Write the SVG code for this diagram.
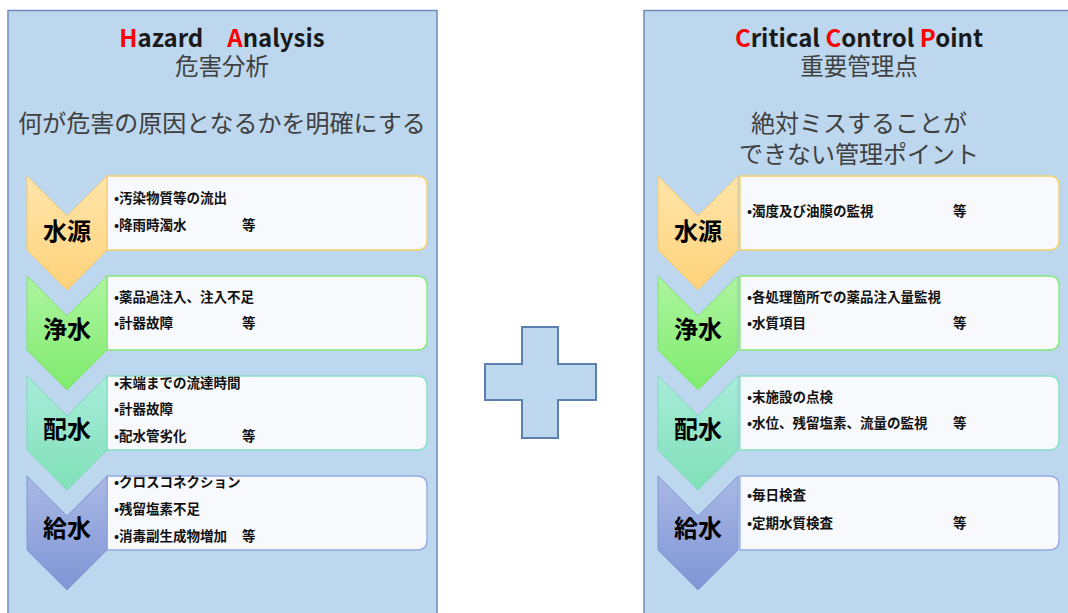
<svg xmlns="http://www.w3.org/2000/svg" width="1068" height="613" viewBox="0 0 1068 613">
<defs>
<linearGradient id="g1" x1="0" y1="0" x2="0" y2="1"><stop offset="0" stop-color="#FFE5AA"/><stop offset="1" stop-color="#FFD27A"/></linearGradient>
<linearGradient id="g2" x1="0" y1="0" x2="0" y2="1"><stop offset="0" stop-color="#AEF5A0"/><stop offset="1" stop-color="#7FEB6E"/></linearGradient>
<linearGradient id="g3" x1="0" y1="0" x2="0" y2="1"><stop offset="0" stop-color="#A8ECDA"/><stop offset="1" stop-color="#80E0B8"/></linearGradient>
<linearGradient id="g4" x1="0" y1="0" x2="0" y2="1"><stop offset="0" stop-color="#AAB8E4"/><stop offset="1" stop-color="#7F95D6"/></linearGradient>
<path id="chev" d="M0,0 L40,40 L80,0 L80,74 L40,114 L0,74 Z"/>
<path id="boxL" d="M0,0 H310 Q320,0 320,10 V64 Q320,74 310,74 H0 Z"/>
<path id="boxR" d="M0,0 H309 Q319,0 319,10 V64 Q319,74 309,74 H0 Z"/>
</defs>
<style>
.panel{fill:#BDD7EE;stroke:#6E8DB8;stroke-width:1.5}
.jp{font-family:"Noto Sans CJK JP","Noto Sans",sans-serif}
.t1{font-size:24px;font-weight:bold;fill:#1a1a1a}
.t2{font-size:23.5px;fill:#404040}
.t3{font-size:24px;fill:#404040}
.red{fill:#FF0000}
.lab{font-size:24px;font-weight:bold;fill:#000;text-anchor:middle}
.it{font-size:13.5px;font-weight:bold;fill:#111}
.bx{fill:#F8F9FC;stroke-width:1.3}
.mid{text-anchor:middle}
</style>

<g id="panel-ha">
<rect class="panel" x="8" y="10.5" width="429" height="620"/>
<text class="jp t1 mid" x="222" y="47"><tspan class="red">H</tspan>azard　<tspan class="red">A</tspan>nalysis</text>
<text class="jp t2 mid" x="222" y="75">危害分析</text>
<text class="jp t3 mid" x="222" y="132">何が危害の原因となるかを明確にする</text>
</g>

<g id="panel-ccp">
<rect class="panel" x="644" y="10.5" width="440" height="620"/>
<text class="jp t1 mid" x="859" y="47"><tspan class="red">C</tspan>ritical <tspan class="red">C</tspan>ontrol <tspan class="red">P</tspan>oint</text>
<text class="jp t2 mid" x="859" y="75">重要管理点</text>
<text class="jp t3 mid" x="859" y="132">絶対ミスすることが</text>
<text class="jp t3 mid" x="859" y="163">できない管理ポイント</text>
</g>

<g id="plus">
<path d="M522,327 H558 V364 H596 V400 H558 V438 H522 V400 H485 V364 H522 Z" fill="#BDD7EE" stroke="#5B7FAE" stroke-width="2"/>
</g>

<g id="ha-suigen">
<use href="#boxL" x="107" y="176" class="bx" stroke="#F5D06A"/>
<use href="#chev" x="27" y="176" fill="url(#g1)" stroke="#F4C870" stroke-width="1"/>
<text class="jp lab" x="67" y="240">水源</text>
<text class="jp it" x="114" y="203">•汚染物質等の流出</text>
<text class="jp it" x="114" y="230">•降雨時濁水</text>
<text class="jp it" x="242" y="230">等</text>
</g>
<g id="ha-jousui">
<use href="#boxL" x="107" y="276" class="bx" stroke="#86E878"/>
<use href="#chev" x="27" y="276" fill="url(#g2)" stroke="#80E070" stroke-width="1"/>
<text class="jp lab" x="67" y="338">浄水</text>
<text class="jp it" x="114" y="302">•薬品過注入、注入不足</text>
<text class="jp it" x="114" y="328">•計器故障</text>
<text class="jp it" x="242" y="328">等</text>
</g>
<g id="ha-haisui">
<use href="#boxL" x="107" y="376" class="bx" stroke="#86E0C4"/>
<use href="#chev" x="27" y="376" fill="url(#g3)" stroke="#80D8B8" stroke-width="1"/>
<text class="jp lab" x="67" y="438">配水</text>
<text class="jp it" x="114" y="388">•末端までの流達時間</text>
<text class="jp it" x="114" y="414">•計器故障</text>
<text class="jp it" x="114" y="441">•配水管劣化</text>
<text class="jp it" x="242" y="441">等</text>
</g>
<g id="ha-kyuusui">
<use href="#boxL" x="107" y="476" class="bx" stroke="#93AAE0"/>
<use href="#chev" x="27" y="476" fill="url(#g4)" stroke="#8099D4" stroke-width="1"/>
<text class="jp lab" x="67" y="537">給水</text>
<text class="jp it" x="114" y="487">•クロスコネクション</text>
<text class="jp it" x="114" y="514">•残留塩素不足</text>
<text class="jp it" x="114" y="541">•消毒副生成物増加</text>
<text class="jp it" x="242" y="541">等</text>
</g>

<g id="ccp-suigen">
<use href="#boxR" x="740" y="176" class="bx" stroke="#F5D06A"/>
<use href="#chev" x="658" y="176" fill="url(#g1)" stroke="#F4C870" stroke-width="1"/>
<text class="jp lab" x="698" y="240">水源</text>
<text class="jp it" x="747" y="216">•濁度及び油膜の監視</text>
<text class="jp it" x="953" y="216">等</text>
</g>
<g id="ccp-jousui">
<use href="#boxR" x="740" y="276" class="bx" stroke="#86E878"/>
<use href="#chev" x="658" y="276" fill="url(#g2)" stroke="#80E070" stroke-width="1"/>
<text class="jp lab" x="698" y="338">浄水</text>
<text class="jp it" x="747" y="302">•各処理箇所での薬品注入量監視</text>
<text class="jp it" x="747" y="328">•水質項目</text>
<text class="jp it" x="953" y="328">等</text>
</g>
<g id="ccp-haisui">
<use href="#boxR" x="740" y="376" class="bx" stroke="#86E0C4"/>
<use href="#chev" x="658" y="376" fill="url(#g3)" stroke="#80D8B8" stroke-width="1"/>
<text class="jp lab" x="698" y="438">配水</text>
<text class="jp it" x="747" y="402">•末施設の点検</text>
<text class="jp it" x="747" y="428">•水位、残留塩素、流量の監視</text>
<text class="jp it" x="953" y="428">等</text>
</g>
<g id="ccp-kyuusui">
<use href="#boxR" x="740" y="476" class="bx" stroke="#93AAE0"/>
<use href="#chev" x="658" y="476" fill="url(#g4)" stroke="#8099D4" stroke-width="1"/>
<text class="jp lab" x="698" y="537">給水</text>
<text class="jp it" x="747" y="500">•毎日検査</text>
<text class="jp it" x="747" y="528">•定期水質検査</text>
<text class="jp it" x="953" y="528">等</text>
</g>
<g id="connectors"/>
</svg>
